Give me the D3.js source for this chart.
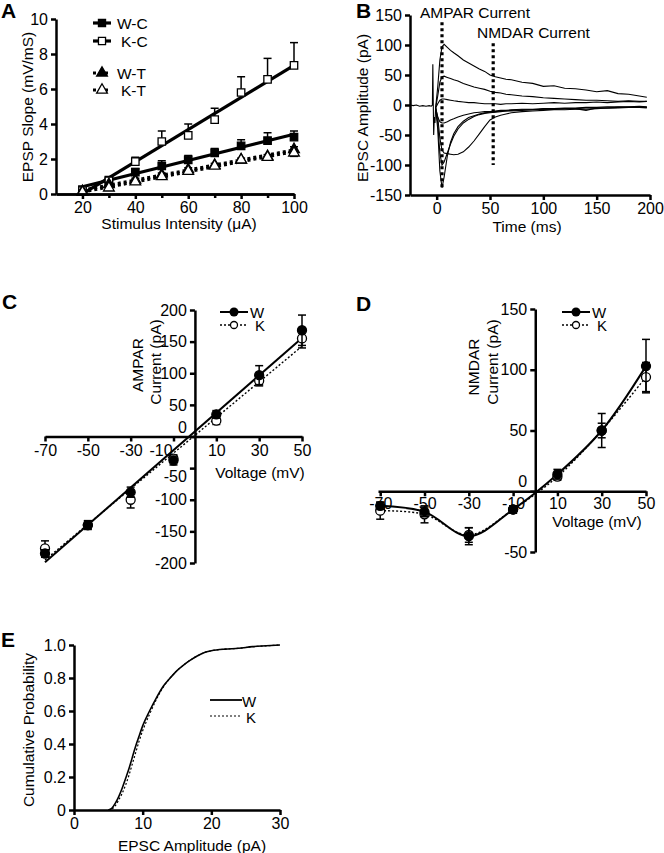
<!DOCTYPE html>
<html>
<head>
<meta charset="utf-8">
<script src="https://cdn.jsdelivr.net/npm/d3@7"></script>
<style>
body { margin: 0; background: #fff; }
svg { display: block; font-family: "Liberation Sans", Arial, sans-serif; }
.axis path, .axis line { stroke: #000; stroke-width: 2.5; }
.axis text { font-size: 16px; fill: #000; font-family: "Liberation Sans", Arial, sans-serif; }
.lbl { font-size: 15.5px; fill: #000; }
.leg { font-size: 15px; fill: #000; }
.panel { font-size: 21px; font-weight: bold; fill: #000; }
</style>
</head>
<body>
<svg id="fig" width="664" height="853"></svg>
<script>
// ---- panel A: input/output ----
const stim = [20, 30, 40, 50, 60, 70, 80, 90, 100];
const slopeWC = [0.25, 0.8, 1.25, 1.6, 1.95, 2.35, 2.75, 3.05, 3.25];
const slopeKC = [0.2, 0.75, 1.85, 3.0, 3.35, 4.25, 5.8, 6.55, 7.35];
const slopeWT = [0.15, 0.55, 0.8, 1.1, 1.4, 1.65, 1.95, 2.15, 2.55];
const slopeKT = [0.1, 0.35, 0.7, 1.0, 1.3, 1.6, 1.95, 2.1, 2.35];
const errWC = [0.1, 0.1, 0.2, 0.3, 0.25, 0.25, 0.35, 0.45, 0.35];
const errKC = [0.1, 0.15, 0.25, 0.6, 0.65, 0.65, 0.9, 1.2, 1.3];
const errWT = [0.05, 0.1, 0.1, 0.1, 0.1, 0.1, 0.1, 0.1, 0.15];
const errKT = [0.05, 0.1, 0.1, 0.1, 0.1, 0.1, 0.1, 0.1, 0.2];

// ---- panel B: EPSC traces ----
const artT = [-25, -22, -19, -16, -13, -10, -7, -5, -4, -3.6, -3.2, -2.8, -2.2, -1.6, -1];
const artV = [0, -1, 0, -2, -1, -2, -1, -2, 0, 68, 5, -50, -20, -30, -5];
const tB = [-1, 1, 3, 5, 7, 10, 13, 16, 20, 25, 30, 35, 40, 45, 50, 55, 60, 65, 70, 80, 90, 100, 110, 120, 130, 140, 150, 160, 170, 180, 190, 197];
const trP50 = [-5, 30, 75, 97, 101, 96, 91, 87, 82, 75, 70, 65, 60, 56, 50, 47, 45, 43, 42, 38, 36, 31, 32, 28, 27, 25, 22, 24, 19, 18, 15, 13];
const trP30 = [-5, 15, 38, 47, 48, 46, 44, 42, 40, 36, 33, 30, 28, 26, 23, 21, 20, 18, 17, 15, 14, 12, 11, 10, 9, 8, 8, 7, 6, 7, 6, 6];
const trP10 = [-5, 2, 8, 10, 10, 9, 8, 7, 6, 5, 4, 4, 3, 2, 2, 2, 1, 2, 2, 3, 2, 3, 4, 3, 4, 4, 5, 4, 5, 6, 5, 6];
const trM10 = [-5, -20, -28, -30, -30, -28, -25, -23, -20, -17, -15, -13, -12, -11, -11, -10, -9, -9, -8, -7, -7, -6, -6, -5, -5, -4, -4, -3, -3, -3, -2, -3];
const trM30 = [-5, -20, -55, -75, -80, -81, -82, -83, -82, -78, -70, -60, -48, -36, -25, -20, -17, -15, -13, -11, -10, -9, -8, -8, -7, -7, -6, -5, -5, -4, -4, -4];
const trM50 = [-5, -30, -80, -100, -95, -80, -65, -52, -40, -30, -24, -19, -16, -14, -13, -12, -11, -10, -10, -9, -8, -7, -7, -6, -6, -5, -5, -5, -4, -4, -4, -4];
const trM70 = [-5, -40, -110, -138, -120, -85, -62, -48, -36, -27, -21, -18, -15, -13, -12, -11, -10, -10, -9, -8, -8, -7, -7, -6, -6, -9, -5, -5, -4, -4, -4, -5];
const cursorT = [5, 53];
const cursorLo = [-140, -100];
const cursorHi = [138, 103];

// ---- panels C, D: I-V ----
const volts = [-70, -50, -30, -10, 10, 30, 50];
const ampaW = [-185, -140, -88, -38, 35, 97, 168];
const ampaK = [-177, -140, -100, -35, 25, 88, 155];
const ampaErrW = [6, 7, 8, 7, 6, 15, 24];
const ampaErrK = [12, 6, 13, 6, 6, 8, 15];
const nmdaW = [-12, -17, -37, -15, 14, 50, 103];
const nmdaK = [-16, -19, -36, -15, 12, 50, 94];
const nmdaErrW = [3, 4, 7, 3, 4, 14, 22];
const nmdaErrK = [7, 7, 6, 3, 3, 6, 12];

// ---- panel E: cumulative distribution ----
const ampE = [5, 5.5, 6, 6.5, 7, 7.5, 8, 8.5, 9, 9.5, 10, 11, 12, 13, 14, 15, 16, 17, 18, 19, 20, 22, 24, 26, 28, 30];
const cdfW = [0, 0.01, 0.04, 0.08, 0.13, 0.19, 0.25, 0.32, 0.39, 0.45, 0.51, 0.6, 0.68, 0.75, 0.8, 0.845, 0.88, 0.91, 0.935, 0.955, 0.965, 0.975, 0.98, 0.99, 0.995, 1.0];
const cdfK = [0, 0.005, 0.025, 0.06, 0.1, 0.15, 0.21, 0.28, 0.35, 0.42, 0.48, 0.58, 0.67, 0.745, 0.8, 0.845, 0.88, 0.91, 0.935, 0.955, 0.965, 0.975, 0.98, 0.99, 0.995, 1.0];

const svg = d3.select("#fig");
const plain = d => String(d);   // hyphen minus like the original

const addAxis = (gen, tx, ty) => svg.append("g")
    .attr("class", "axis")
    .attr("transform", `translate(${tx},${ty})`)
    .call(gen);

const yLabel = (txt, x, y) => svg.append("text")
    .attr("class", "lbl")
    .attr("transform", `translate(${x},${y}) rotate(-90)`)
    .attr("text-anchor", "middle")
    .attr("dominant-baseline", "central")
    .text(txt);

const xLabel = (txt, x, y) => svg.append("text")
    .attr("class", "lbl")
    .attr("x", x).attr("y", y)
    .attr("text-anchor", "middle")
    .attr("dominant-baseline", "central")
    .text(txt);

const panelLetter = (txt, x, y) => svg.append("text")
    .attr("class", "panel").attr("x", x).attr("y", y).text(txt);

// least squares line
const fit = (xs, ys) => {
    const mx = d3.mean(xs), my = d3.mean(ys);
    const b = d3.sum(xs, (x, i) => (x - mx) * (ys[i] - my)) / d3.sum(xs, x => (x - mx) ** 2);
    return x => my + b * (x - mx);
};

// ================= A =================
const xA = d3.scaleLinear().domain([10, 100]).range([56, 294]);
const yA = d3.scaleLinear().domain([0, 10]).range([194, 19]);

const seriesA = [
    { name: "W-C", vals: slopeWC, err: errWC, dir: 1, dash: null, shape: d3.symbolSquare, fill: "#000" },
    { name: "K-C", vals: slopeKC, err: errKC, dir: 1, dash: null, shape: d3.symbolSquare, fill: "#fff" },
    { name: "W-T", vals: slopeWT, err: errWT, dir: 1, dash: "3,3", shape: d3.symbolTriangle, fill: "#000" },
    { name: "K-T", vals: slopeKT, err: errKT, dir: -1, dash: "3,3", shape: d3.symbolTriangle, fill: "#fff" }
];

seriesA.forEach(s => {
    const f = fit(stim, s.vals);
    svg.append("line")
        .attr("x1", xA(20)).attr("y1", yA(f(20)))
        .attr("x2", xA(100)).attr("y2", yA(f(100)))
        .attr("stroke", "#000").attr("stroke-width", 3.2)
        .attr("stroke-dasharray", s.dash);
    const g = svg.append("g");
    stim.forEach((x, i) => {
        const y0 = s.vals[i], y1 = s.vals[i] + s.dir * s.err[i];
        g.append("line").attr("x1", xA(x)).attr("x2", xA(x))
            .attr("y1", yA(y0)).attr("y2", yA(y1))
            .attr("stroke", "#000").attr("stroke-width", 1.5);
        g.append("line").attr("x1", xA(x) - 4).attr("x2", xA(x) + 4)
            .attr("y1", yA(y1)).attr("y2", yA(y1))
            .attr("stroke", "#000").attr("stroke-width", 1.5);
    });
    g.selectAll("path")
        .data(stim)
        .join("path")
        .attr("d", d3.symbol().type(s.shape).size(s.shape === d3.symbolSquare ? 55 : 50))
        .attr("transform", (d, i) => `translate(${xA(d)},${yA(s.vals[i])})`)
        .attr("fill", s.fill).attr("stroke", "#000").attr("stroke-width", 1.3);
});

// minor ticks on the stimulus axis
addAxis(d3.axisBottom(xA).tickValues([30, 50, 70, 90]).tickSize(4).tickSizeOuter(0).tickFormat(""), 0, 194);
addAxis(d3.axisBottom(xA).tickValues([20, 40, 60, 80, 100]).tickSize(5).tickSizeOuter(0).tickFormat(plain), 0, 194);
addAxis(d3.axisLeft(yA).tickValues([0, 2, 4, 6, 8, 10]).tickSize(5).tickSizeOuter(0).tickFormat(plain), 56, 0);

// legend A
const legY = [23, 41, 73, 90];
seriesA.forEach((s, i) => {
    svg.append("line").attr("x1", 93).attr("x2", 111).attr("y1", legY[i]).attr("y2", legY[i])
        .attr("stroke", "#000").attr("stroke-width", 3.2).attr("stroke-dasharray", s.dash);
    svg.append("path")
        .attr("d", d3.symbol().type(s.shape).size(50)())
        .attr("transform", `translate(102,${legY[i]})`)
        .attr("fill", s.fill).attr("stroke", "#000").attr("stroke-width", 1.3);
    svg.append("text").attr("class", "lbl").attr("x", i % 2 ? 121 : 117).attr("y", legY[i])
        .attr("dominant-baseline", "central").text(s.name);
});

yLabel("EPSP Slope (mV/mS)", 27, 107);
xLabel("Stimulus Intensity (\u03bcA)", 179, 223);
panelLetter("A", 1, 18);

// ================= B =================
const xB = d3.scaleLinear().domain([-25, 200]).range([410, 650]);
const yB = d3.scaleLinear().domain([-150, 150]).range([195, 15]);
const lineB = d3.line().x(d => xB(d[0])).y(d => yB(d[1]));

svg.append("path")
    .attr("d", lineB(artT.map((t, i) => [t, artV[i]])))
    .attr("fill", "none").attr("stroke", "#000").attr("stroke-width", 1.1);

[trP50, trP30, trP10, trM10, trM30, trM50, trM70].forEach(tr => {
    svg.append("path")
        .attr("d", lineB(tB.map((t, i) => [t, tr[i]])))
        .attr("fill", "none").attr("stroke", "#000").attr("stroke-width", 1.1);
});

cursorT.forEach((t, i) => {
    svg.append("line")
        .attr("x1", xB(t)).attr("x2", xB(t))
        .attr("y1", yB(cursorHi[i])).attr("y2", yB(cursorLo[i]))
        .attr("stroke", "#000").attr("stroke-width", 3.2).attr("stroke-dasharray", "3,3");
});

addAxis(d3.axisBottom(xB).tickValues([0, 50, 100, 150, 200]).tickSize(5).tickSizeOuter(0).tickFormat(plain), 0, 195);
addAxis(d3.axisLeft(yB).tickValues([-150, -100, -50, 0, 50, 100, 150]).tickSize(5).tickSizeOuter(0).tickFormat(plain), 410, 0);

svg.append("text").attr("class", "lbl").attr("x", 420).attr("y", 12)
    .attr("dominant-baseline", "central").text("AMPAR Current");
svg.append("text").attr("class", "lbl").attr("x", 477).attr("y", 32)
    .attr("dominant-baseline", "central").text("NMDAR Current");
yLabel("EPSC Amplitude (pA)", 362, 108);
xLabel("Time (ms)", 527, 226);
panelLetter("B", 356, 18);

// ================= C and D (I-V) =================
const drawIV = (cfg) => {
    const { x, y, w, k, ew, ek, smooth } = cfg;
    if (smooth) {
        const ln = d3.line().x(d => x(d[0])).y(d => y(d[1])).curve(d3.curveCatmullRom.alpha(0.5));
        svg.append("path").attr("d", ln(volts.map((v, i) => [v, k[i]])))
            .attr("fill", "none").attr("stroke", "#000").attr("stroke-width", 1.4).attr("stroke-dasharray", "2,2");
        svg.append("path").attr("d", ln(volts.map((v, i) => [v, w[i]])))
            .attr("fill", "none").attr("stroke", "#000").attr("stroke-width", 2);
    } else {
        const fk = fit(volts, k), fw = fit(volts, w);
        svg.append("line").attr("x1", x(-70)).attr("y1", y(fk(-70))).attr("x2", x(50)).attr("y2", y(fk(50)))
            .attr("stroke", "#000").attr("stroke-width", 1.4).attr("stroke-dasharray", "2,2");
        svg.append("line").attr("x1", x(-70)).attr("y1", y(fw(-70))).attr("x2", x(50)).attr("y2", y(fw(50)))
            .attr("stroke", "#000").attr("stroke-width", 2);
    }
    [[k, ek, "#fff"], [w, ew, "#000"]].forEach(([vals, err, fill]) => {
        const g = svg.append("g");
        volts.forEach((v, i) => {
            const a = y(vals[i] - err[i]), b = y(vals[i] + err[i]);
            g.append("line").attr("x1", x(v)).attr("x2", x(v)).attr("y1", a).attr("y2", b)
                .attr("stroke", "#000").attr("stroke-width", 1.5);
            [a, b].forEach(yy => g.append("line").attr("x1", x(v) - 4).attr("x2", x(v) + 4)
                .attr("y1", yy).attr("y2", yy).attr("stroke", "#000").attr("stroke-width", 1.5));
        });
        g.selectAll("circle").data(volts).join("circle")
            .attr("cx", d => x(d)).attr("cy", (d, i) => y(vals[i])).attr("r", 4.5)
            .attr("fill", fill).attr("stroke", "#000").attr("stroke-width", 1.3);
    });
};

const legendIV = (x0, y0) => {
    svg.append("line").attr("x1", x0).attr("x2", x0 + 28).attr("y1", y0).attr("y2", y0)
        .attr("stroke", "#000").attr("stroke-width", 2);
    svg.append("circle").attr("cx", x0 + 14).attr("cy", y0).attr("r", 4.5).attr("fill", "#000");
    svg.append("text").attr("class", "leg").attr("x", x0 + 30).attr("y", y0)
        .attr("dominant-baseline", "central").text("W");
    svg.append("line").attr("x1", x0).attr("x2", x0 + 28).attr("y1", y0 + 13).attr("y2", y0 + 13)
        .attr("stroke", "#000").attr("stroke-width", 1.4).attr("stroke-dasharray", "2,2");
    svg.append("circle").attr("cx", x0 + 14).attr("cy", y0 + 13).attr("r", 3.5)
        .attr("fill", "#fff").attr("stroke", "#000").attr("stroke-width", 1.3);
    svg.append("text").attr("class", "leg").attr("x", x0 + 35).attr("y", y0 + 13.5)
        .attr("dominant-baseline", "central").text("K");
};

const ivTicks = [-70, -50, -30, -10, 10, 30, 50];

// C
const xC = d3.scaleLinear().domain([-70, 50]).range([45, 302]);
const yC = d3.scaleLinear().domain([-200, 200]).range([563, 310]);
drawIV({ x: xC, y: yC, w: ampaW, k: ampaK, ew: ampaErrW, ek: ampaErrK, smooth: false });
const axCx = addAxis(d3.axisBottom(xC).tickValues(ivTicks).tickSize(5).tickSizeOuter(0).tickFormat(plain), 0, yC(0));
axCx.selectAll(".tick").filter(d => d === -10).select("text").attr("dx", -13);
const axCy = addAxis(d3.axisLeft(yC).tickValues(d3.range(-200, 201, 50)).tickSize(5).tickSizeOuter(0).tickFormat(plain), xC(0), 0);
axCy.selectAll(".tick").filter(d => d === 0).select("text").attr("dy", "-0.25em");
axCy.selectAll(".tick").filter(d => d === -50).select("text").attr("dy", "0.85em");
legendIV(220, 312);
yLabel("AMPAR", 137, 365);
yLabel("Current (pA)", 155, 362);
xLabel("Voltage (mV)", 260, 472);
panelLetter("C", 2, 309);

// D
const xD = d3.scaleLinear().domain([-71, 50]).range([378, 646]);
const yD = d3.scaleLinear().domain([-50, 150]).range([552, 309]);
drawIV({ x: xD, y: yD, w: nmdaW, k: nmdaK, ew: nmdaErrW, ek: nmdaErrK, smooth: true });
addAxis(d3.axisBottom(xD).tickValues(ivTicks).tickSize(5).tickSizeOuter(0).tickPadding(1).tickFormat(plain), 0, yD(0));
const axDy = addAxis(d3.axisLeft(yD).tickValues([-50, 0, 50, 100, 150]).tickSize(5).tickSizeOuter(0).tickFormat(plain), xD(0), 0);
axDy.selectAll(".tick").filter(d => d === 0).select("text").attr("dy", "-0.3em");
legendIV(562, 312);
yLabel("NMDAR", 473, 367);
yLabel("Current (pA)", 492, 362);
xLabel("Voltage (mV)", 597, 521);
panelLetter("D", 356, 311);

// ================= E =================
const xE = d3.scaleLinear().domain([0, 30]).range([74, 280]);
const yE = d3.scaleLinear().domain([0, 1]).range([810, 645]);
const lineE = d3.line().x(d => xE(d[0])).y(d => yE(d[1])).curve(d3.curveMonotoneX);
svg.append("path").attr("d", lineE(ampE.map((a, i) => [a, cdfK[i]])))
    .attr("fill", "none").attr("stroke", "#000").attr("stroke-width", 1.2).attr("stroke-dasharray", "2,2");
svg.append("path").attr("d", lineE(ampE.map((a, i) => [a, cdfW[i]])))
    .attr("fill", "none").attr("stroke", "#000").attr("stroke-width", 1.6);

addAxis(d3.axisBottom(xE).tickValues([0, 10, 20, 30]).tickSize(5).tickSizeOuter(0).tickFormat(plain), 0, 810);
addAxis(d3.axisLeft(yE).tickValues([0, 0.2, 0.4, 0.6, 0.8, 1.0]).tickSize(5).tickSizeOuter(0)
    .tickFormat(d => d === 0 ? "0" : d3.format(".1f")(d)), 74, 0);

svg.append("line").attr("x1", 210).attr("x2", 242).attr("y1", 700).attr("y2", 700)
    .attr("stroke", "#000").attr("stroke-width", 1.8);
svg.append("text").attr("class", "leg").attr("x", 242).attr("y", 701)
    .attr("dominant-baseline", "central").text("W");
svg.append("line").attr("x1", 210).attr("x2", 241).attr("y1", 716).attr("y2", 716)
    .attr("stroke", "#000").attr("stroke-width", 1.2).attr("stroke-dasharray", "2,2");
svg.append("text").attr("class", "leg").attr("x", 246).attr("y", 717)
    .attr("dominant-baseline", "central").text("K");

yLabel("Cumulative Probability", 28, 730);
xLabel("EPSC Amplitude (pA)", 192, 845);
panelLetter("E", 1, 647);
</script>
</body>
</html>
